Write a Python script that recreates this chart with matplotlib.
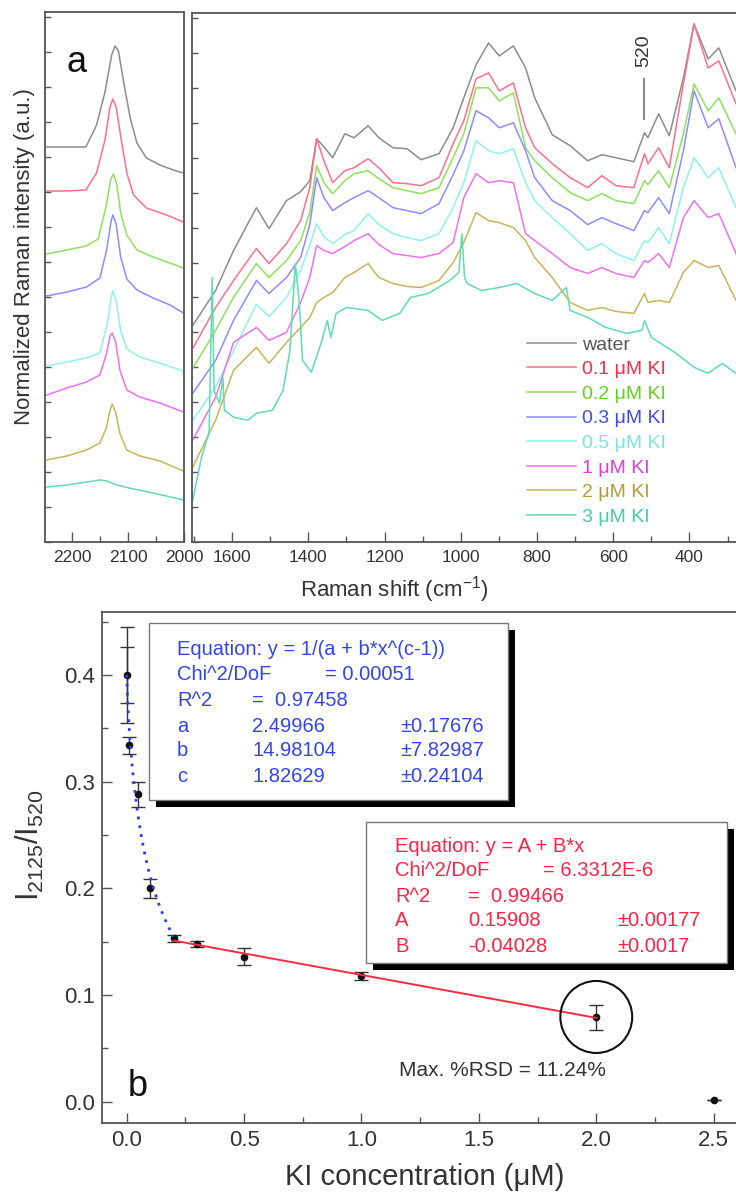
import matplotlib
matplotlib.use('Agg')
import matplotlib.pyplot as plt
import numpy as np
from matplotlib.ticker import MultipleLocator, NullFormatter
from matplotlib.patches import Rectangle, Ellipse

plt.rcParams['font.family'] = ['Liberation Sans', 'DejaVu Sans']
plt.rcParams['mathtext.fontset'] = 'custom'
plt.rcParams['mathtext.rm'] = 'Liberation Sans'
plt.rcParams['mathtext.it'] = 'Liberation Sans:italic'

# ---------------- data: panel a (left, C-D stretch region) ----------------
labels = ['water', '0.1 \u03bcM KI', '0.2 \u03bcM KI', '0.3 \u03bcM KI',
          '0.5 \u03bcM KI', '1 \u03bcM KI', '2 \u03bcM KI', '3 \u03bcM KI']

left_wn_water = [2245, 2209, 2175, 2156, 2141, 2129, 2123, 2117, 2108, 2096, 2084, 2067, 2043, 2019, 2001]
left_int_water = [395, 395, 395, 417, 450, 487, 496, 491, 461, 424, 399, 384, 377, 372, 369]
left_wn_01 = [2245, 2209, 2175, 2156, 2141, 2132, 2127, 2121, 2113, 2102, 2090, 2067, 2031, 2001]
left_int_01 = [351, 351, 352, 369, 402, 435, 443, 435, 406, 369, 347, 334, 327, 320]
left_wn_02 = [2245, 2209, 2174, 2153, 2139, 2131, 2126, 2120, 2113, 2102, 2084, 2055, 2025, 2001]
left_int_02 = [288, 292, 296, 303, 336, 362, 368, 358, 329, 307, 292, 285, 279, 274]
left_wn_03 = [2245, 2209, 2174, 2150, 2138, 2130, 2127, 2121, 2113, 2102, 2084, 2055, 2025, 2001]
left_int_03 = [246, 250, 255, 264, 292, 321, 327, 318, 285, 263, 252, 244, 237, 229]
left_wn_05 = [2245, 2209, 2174, 2150, 2137, 2130, 2127, 2121, 2113, 2102, 2079, 2049, 2001]
left_int_05 = [176, 180, 184, 189, 218, 244, 251, 241, 211, 193, 185, 180, 171]
left_wn_1 = [2245, 2209, 2174, 2150, 2138, 2132, 2128, 2122, 2114, 2102, 2079, 2043, 2001]
left_int_1 = [147, 154, 160, 167, 189, 206, 209, 200, 171, 152, 145, 139, 130]
left_wn_2 = [2245, 2209, 2174, 2150, 2138, 2132, 2128, 2122, 2114, 2102, 2079, 2043, 2001]
left_int_2 = [82, 86, 92, 99, 115, 132, 138, 130, 108, 92, 86, 81, 71]
left_wn_3 = [2245, 2209, 2174, 2150, 2138, 2120, 2090, 2055, 2001]
left_int_3 = [55, 57, 60, 62, 61, 57, 53, 49, 42]

# ---------------- data: panel a (right, fingerprint region) ----------------
right_wn = [1703, 1643, 1596, 1536, 1503, 1457, 1420, 1396, 1378, 1359, 1336, 1304, 1280, 1243,
            1215, 1178, 1141, 1104, 1057, 1020, 992, 960, 927, 899, 862, 830, 806, 760, 713,
            667, 630, 593, 546, 518, 509, 481, 453, 416, 388, 351, 323, 278]
right_int_water = [217, 252, 292, 335, 314, 342, 351, 362, 404, 396, 385, 409, 405, 417, 405, 395,
                   394, 383, 389, 415, 445, 478, 500, 487, 497, 475, 445, 408, 397, 382, 388, 385,
                   381, 410, 405, 429, 407, 465, 519, 484, 495, 452]
right_int_01 = [194, 235, 262, 294, 279, 299, 322, 355, 404, 382, 360, 372, 375, 384, 375, 360, 359,
                357, 365, 399, 422, 464, 470, 452, 460, 415, 395, 379, 365, 355, 367, 357, 355, 389,
                379, 395, 375, 459, 519, 475, 482, 439]
right_int_02 = [174, 212, 245, 279, 265, 282, 302, 330, 377, 360, 349, 362, 369, 372, 364, 355, 352,
                349, 355, 385, 409, 455, 455, 442, 450, 395, 382, 365, 350, 342, 349, 342, 339, 362,
                358, 372, 355, 409, 459, 432, 445, 409]
right_int_03 = [149, 182, 222, 262, 249, 265, 285, 318, 365, 345, 332, 340, 345, 352, 345, 335, 332,
                329, 339, 368, 392, 432, 425, 415, 420, 392, 365, 342, 332, 318, 325, 319, 312, 332,
                330, 345, 329, 392, 452, 415, 424, 375]
right_int_05 = [122, 155, 192, 238, 226, 245, 272, 298, 319, 306, 299, 308, 312, 329, 318, 309, 305,
                302, 309, 335, 360, 402, 392, 389, 394, 360, 342, 325, 309, 292, 299, 289, 282, 302,
                300, 315, 299, 355, 385, 365, 375, 335]
right_int_1 = [102, 145, 200, 215, 202, 210, 240, 265, 297, 292, 289, 296, 302, 309, 298, 289, 287,
               285, 289, 300, 345, 369, 360, 362, 360, 309, 302, 289, 275, 269, 275, 269, 265, 282,
               280, 289, 275, 325, 342, 325, 329, 289]
right_int_2 = [75, 122, 172, 195, 179, 200, 215, 225, 240, 245, 250, 265, 270, 279, 265, 259, 256,
               255, 262, 280, 300, 330, 322, 320, 315, 302, 285, 265, 240, 232, 235, 231, 229, 249,
               240, 242, 240, 270, 282, 275, 277, 242]
right_wn_3 = [1703, 1680, 1660, 1652, 1647, 1633, 1624, 1620, 1596, 1559, 1536, 1494, 1466, 1448,
              1434, 1424, 1415, 1392, 1364, 1350, 1341, 1327, 1299, 1243, 1206, 1160, 1132, 1085,
              1029, 1005, 997, 990, 983, 946, 899, 853, 806, 760, 723, 713, 667, 620, 565, 525,
              518, 500, 435, 388, 351, 314, 278]
right_int_3 = [42, 85, 110, 265, 152, 139, 165, 132, 125, 122, 129, 132, 152, 192, 279, 242, 182,
               170, 202, 222, 205, 229, 235, 232, 222, 229, 245, 249, 262, 270, 309, 265, 259, 252,
               255, 259, 249, 242, 255, 232, 225, 215, 209, 212, 222, 205, 189, 175, 169, 179, 169]

line_colors = ['#8c8c8c', '#ff6f8a', '#8fe05a', '#8c8cff', '#8ff2e6', '#f070f0', '#c9b45a', '#5fdcb0']
text_colors = ['#555555', '#ff2a4a', '#5fd41a', '#3d4de6', '#7ae6d8', '#d940d9', '#b09c38', '#48cc9c']

# ---------------- data: panel b ----------------
conc = [0.0, 0.01, 0.05, 0.1, 0.2, 0.3, 0.5, 1.0, 2.0, 2.5]
ratio = [0.400, 0.334, 0.288, 0.200, 0.153, 0.148, 0.136, 0.118, 0.079, 0.002]
ratio_err = [0.045, 0.008, 0.012, 0.009, 0.003, 0.003, 0.008, 0.004, 0.012, 0.0]
conc0_inner_err = 0.026
# fit parameters shown in the chart
fit_a, fit_b, fit_c = 2.49966, 14.98104, 1.82629
lin_A, lin_B = 0.15908, -0.04028

# ---------------- figure ----------------
W, H = 736, 1193
fig = plt.figure(figsize=(W / 100, H / 100), dpi=100)


def fx(px):
    return px / W


def fy(py):
    return 1 - py / H


spine_c = '#555555'
txt_c = '#333333'

axL = fig.add_axes([fx(45), fy(542), (184 - 45) / W, (542 - 12) / H])
axR = fig.add_axes([fx(192), fy(542), 1 - fx(192), (542 - 13) / H])
axB = fig.add_axes([fx(102), fy(1123), 1 - fx(102), (1123 - 612) / H])

left_sets = [(left_wn_water, left_int_water), (left_wn_01, left_int_01), (left_wn_02, left_int_02),
             (left_wn_03, left_int_03), (left_wn_05, left_int_05), (left_wn_1, left_int_1),
             (left_wn_2, left_int_2), (left_wn_3, left_int_3)]
for (xw, yi), c in zip(left_sets, line_colors):
    axL.plot(xw, yi, color=c, lw=1.1)

right_sets = [(right_wn, right_int_water), (right_wn, right_int_01), (right_wn, right_int_02),
              (right_wn, right_int_03), (right_wn, right_int_05), (right_wn, right_int_1),
              (right_wn, right_int_2), (right_wn_3, right_int_3)]
handles = []
for (xw, yi), c, lab in zip(right_sets, line_colors, labels):
    h, = axR.plot(xw, yi, color=c, lw=1.1, label=lab)
    handles.append(h)

for ax in (axL, axR):
    ax.set_ylim(0, 530)
    ax.yaxis.set_major_locator(MultipleLocator(35))
    ax.yaxis.set_major_formatter(NullFormatter())
    for s in ax.spines.values():
        s.set_color(spine_c)
        s.set_linewidth(1.3)
    ax.tick_params(axis='both', which='both', direction='in', colors=spine_c,
                   labelcolor=txt_c, labelsize=12.5, width=1)
    ax.tick_params(axis='x', which='major', length=7, pad=6)
    ax.tick_params(axis='x', which='minor', length=4)
    ax.tick_params(axis='y', which='major', length=4)

axL.set_xlim(2248, 2000)
axL.xaxis.set_major_locator(MultipleLocator(100))
axL.xaxis.set_minor_locator(MultipleLocator(50))
axL.tick_params(axis='y', right=False)

axR.set_xlim(1705, 278)
axR.xaxis.set_major_locator(MultipleLocator(200))
axR.xaxis.set_minor_locator(MultipleLocator(100))
axR.spines['right'].set_visible(False)
axR.set_xticks([1600, 1400, 1200, 1000, 800, 600, 400])

# 520 annotation
axR.plot([520, 520], [424, 464], color='#8a8a8a', lw=1.5)
axR.text(521, 492, '520', rotation=90, ha='center', va='center', fontsize=14, color=txt_c)

leg = axR.legend(handles=handles, loc='upper left', bbox_to_anchor=(fx(527), fy(336)),
                 bbox_transform=fig.transFigure, frameon=False, fontsize=14,
                 borderpad=0, borderaxespad=0, handlelength=2.5, handletextpad=0.35,
                 labelspacing=0.36)
for t, c in zip(leg.get_texts(), text_colors):
    t.set_color(c)

fig.text(fx(77), fy(62), 'a', fontsize=26, ha='center', va='center', color='#111111')
fig.text(fx(394), fy(590), 'Raman shift (cm$^{-1}$)', fontsize=16, ha='center', va='center', color=txt_c)
fig.text(fx(25), fy(257), 'Normalized Raman intensity (a.u.)', fontsize=16, rotation=90,
         ha='center', va='center', color=txt_c)

# ---------------- panel b ----------------
axB.set_xlim(-0.105, 2.595)
axB.set_ylim(-0.02, 0.459)
axB.errorbar(conc, ratio, yerr=ratio_err, fmt='o', color='#111111', ms=4.5, ecolor='#333333',
             elinewidth=1.0, capsize=5, capthick=1.0, zorder=3)
axB.errorbar([conc[0]], [ratio[0]], yerr=[conc0_inner_err], fmt='none', ecolor='#333333',
             elinewidth=1.0, capsize=5, capthick=1.0, zorder=3)
xf = np.linspace(0.0, 0.2, 200)
axB.plot(xf, 1.0 / (fit_a + fit_b * xf ** (fit_c - 1)), color='#2b3cf0', lw=2.0,
         linestyle=(0, (1, 2.2)), zorder=4)
xl = np.array([0.2, 2.0])
axB.plot(xl, lin_A + lin_B * xl, color='#ff2a40', lw=1.4, zorder=4)
axB.add_patch(Ellipse((2.0, 0.0794), width=0.306, height=0.0675, fill=False, ec='#111111', lw=1.5,
                      zorder=5))

axB.xaxis.set_major_locator(MultipleLocator(0.5))
axB.xaxis.set_minor_locator(MultipleLocator(0.25))
axB.yaxis.set_major_locator(MultipleLocator(0.1))
axB.yaxis.set_minor_locator(MultipleLocator(0.05))
axB.xaxis.set_major_formatter(plt.FuncFormatter(lambda v, p: f'{v:.1f}'))
axB.yaxis.set_major_formatter(plt.FuncFormatter(lambda v, p: f'{v:.1f}'))
for s in axB.spines.values():
    s.set_color(spine_c)
    s.set_linewidth(1.3)
axB.spines['right'].set_visible(False)
axB.tick_params(axis='both', which='both', direction='in', colors=spine_c, labelcolor=txt_c,
                labelsize=16, width=1)
axB.tick_params(axis='both', which='major', length=7, pad=5)
axB.tick_params(axis='both', which='minor', length=4)

fig.text(fx(425), fy(1177), 'KI concentration (\u03bcM)', fontsize=21, ha='center', va='center',
         color=txt_c)
fig.text(fx(30), fy(845), r'$\mathregular{I_{2125}/I_{520}}$', fontsize=22, rotation=90,
         ha='center', va='center', color=txt_c)
fig.text(fx(138), fy(1086), 'b', fontsize=26, ha='center', va='center', color='#111111')
fig.text(fx(502), fy(1071), 'Max. %RSD = 11.24%', fontsize=15, ha='center', va='center', color=txt_c)


def box(x0, y0, x1, y1, sh):
    fig.add_artist(Rectangle((fx(x0 + sh), fy(y1 + sh)), (x1 - x0) / W, (y1 - y0) / H,
                             transform=fig.transFigure, facecolor='black', edgecolor='none', zorder=10))
    fig.add_artist(Rectangle((fx(x0), fy(y1)), (x1 - x0) / W, (y1 - y0) / H,
                             transform=fig.transFigure, facecolor='white', edgecolor='#777777',
                             lw=1.0, zorder=11))


box(149, 623, 508, 800, 7)
box(366, 822, 727, 963, 7)

blue = '#3344ee'
red = '#ff2244'
fs_box = 14.5
blue_rows = [
    (650, [(177, 'Equation: y = 1/(a + b*x^(c-1))')]),
    (675, [(177, 'Chi^2/DoF'), (325, '= 0.00051')]),
    (700, [(177, 'R^2'), (252, '=  0.97458')]),
    (726, [(177, 'a'), (252, '2.49966'), (400, '\u00b10.17676')]),
    (751, [(177, 'b'), (252, '14.98104'), (400, '\u00b17.82987')]),
    (776, [(177, 'c'), (252, '1.82629'), (400, '\u00b10.24104')]),
]
red_rows = [
    (847, [(395, 'Equation: y = A + B*x')]),
    (871, [(395, 'Chi^2/DoF'), (543, '= 6.3312E-6')]),
    (896, [(395, 'R^2'), (468, '=  0.99466')]),
    (921, [(395, 'A'), (468, '0.15908'), (617, '\u00b10.00177')]),
    (946, [(395, 'B'), (468, '-0.04028'), (617, '\u00b10.0017')]),
]
for rows, col in ((blue_rows, blue), (red_rows, red)):
    for yy, items in rows:
        for xx, s in items:
            fig.text(fx(xx), fy(yy), s, fontsize=fs_box, color=col, ha='left', va='center', zorder=12)

fig.savefig('out.png', dpi=100)
